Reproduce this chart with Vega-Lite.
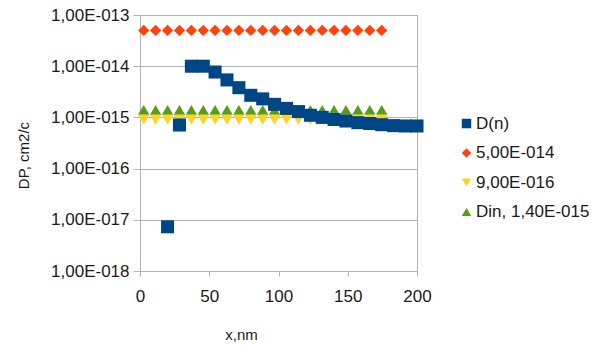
{
  "$schema": "https://vega.github.io/schema/vega-lite/v6.json",
  "width": 277,
  "height": 256,
  "autosize": {"type": "none"},
  "padding": {"left": 140, "top": 15, "right": 184, "bottom": 74},
  "background": "white",
  "config": {
    "font": "Liberation Sans",
    "view": {"stroke": "#b3b3b3", "strokeWidth": 1},
    "axis": {
      "gridColor": "#b3b3b3",
      "domainColor": "#b3b3b3",
      "tickColor": "#b3b3b3",
      "labelColor": "#1a1a1a",
      "titleColor": "#1a1a1a",
      "labelFont": "Liberation Sans",
      "titleFont": "Liberation Sans",
      "labelFontSize": 17,
      "titleFontSize": 15,
      "titleFontWeight": "normal"
    },
    "legend": {
      "orient": "none",
      "legendX": 318,
      "legendY": 100,
      "padding": 0,
      "labelFont": "Liberation Sans",
      "labelFontSize": 17,
      "labelColor": "#1a1a1a",
      "symbolSize": 90,
      "rowPadding": 11.5,
      "labelOffset": 1
    }
  },
  "data": {
    "values": [
      {"series": "Din, 1,40E-015", "x": 2.7, "y": 1.4e-15},
      {"series": "Din, 1,40E-015", "x": 11.3, "y": 1.4e-15},
      {"series": "Din, 1,40E-015", "x": 19.9, "y": 1.4e-15},
      {"series": "Din, 1,40E-015", "x": 28.5, "y": 1.4e-15},
      {"series": "Din, 1,40E-015", "x": 37.1, "y": 1.4e-15},
      {"series": "Din, 1,40E-015", "x": 45.7, "y": 1.4e-15},
      {"series": "Din, 1,40E-015", "x": 54.2, "y": 1.4e-15},
      {"series": "Din, 1,40E-015", "x": 62.8, "y": 1.4e-15},
      {"series": "Din, 1,40E-015", "x": 71.4, "y": 1.4e-15},
      {"series": "Din, 1,40E-015", "x": 80.0, "y": 1.4e-15},
      {"series": "Din, 1,40E-015", "x": 88.6, "y": 1.4e-15},
      {"series": "Din, 1,40E-015", "x": 97.2, "y": 1.4e-15},
      {"series": "Din, 1,40E-015", "x": 105.8, "y": 1.4e-15},
      {"series": "Din, 1,40E-015", "x": 114.4, "y": 1.4e-15},
      {"series": "Din, 1,40E-015", "x": 123.0, "y": 1.4e-15},
      {"series": "Din, 1,40E-015", "x": 131.6, "y": 1.4e-15},
      {"series": "Din, 1,40E-015", "x": 140.1, "y": 1.4e-15},
      {"series": "Din, 1,40E-015", "x": 148.7, "y": 1.4e-15},
      {"series": "Din, 1,40E-015", "x": 157.3, "y": 1.4e-15},
      {"series": "Din, 1,40E-015", "x": 165.9, "y": 1.4e-15},
      {"series": "Din, 1,40E-015", "x": 174.5, "y": 1.4e-15},
      {"series": "9,00E-016", "x": 2.7, "y": 9e-16},
      {"series": "9,00E-016", "x": 11.3, "y": 9e-16},
      {"series": "9,00E-016", "x": 19.9, "y": 9e-16},
      {"series": "9,00E-016", "x": 28.5, "y": 9e-16},
      {"series": "9,00E-016", "x": 37.1, "y": 9e-16},
      {"series": "9,00E-016", "x": 45.7, "y": 9e-16},
      {"series": "9,00E-016", "x": 54.2, "y": 9e-16},
      {"series": "9,00E-016", "x": 62.8, "y": 9e-16},
      {"series": "9,00E-016", "x": 71.4, "y": 9e-16},
      {"series": "9,00E-016", "x": 80.0, "y": 9e-16},
      {"series": "9,00E-016", "x": 88.6, "y": 9e-16},
      {"series": "9,00E-016", "x": 97.2, "y": 9e-16},
      {"series": "9,00E-016", "x": 105.8, "y": 9e-16},
      {"series": "9,00E-016", "x": 114.4, "y": 9e-16},
      {"series": "9,00E-016", "x": 123.0, "y": 9e-16},
      {"series": "9,00E-016", "x": 131.6, "y": 9e-16},
      {"series": "9,00E-016", "x": 140.1, "y": 9e-16},
      {"series": "9,00E-016", "x": 148.7, "y": 9e-16},
      {"series": "9,00E-016", "x": 157.3, "y": 9e-16},
      {"series": "9,00E-016", "x": 165.9, "y": 9e-16},
      {"series": "9,00E-016", "x": 174.5, "y": 9e-16},
      {"series": "5,00E-014", "x": 2.7, "y": 5e-14},
      {"series": "5,00E-014", "x": 11.3, "y": 5e-14},
      {"series": "5,00E-014", "x": 19.9, "y": 5e-14},
      {"series": "5,00E-014", "x": 28.5, "y": 5e-14},
      {"series": "5,00E-014", "x": 37.1, "y": 5e-14},
      {"series": "5,00E-014", "x": 45.7, "y": 5e-14},
      {"series": "5,00E-014", "x": 54.2, "y": 5e-14},
      {"series": "5,00E-014", "x": 62.8, "y": 5e-14},
      {"series": "5,00E-014", "x": 71.4, "y": 5e-14},
      {"series": "5,00E-014", "x": 80.0, "y": 5e-14},
      {"series": "5,00E-014", "x": 88.6, "y": 5e-14},
      {"series": "5,00E-014", "x": 97.2, "y": 5e-14},
      {"series": "5,00E-014", "x": 105.8, "y": 5e-14},
      {"series": "5,00E-014", "x": 114.4, "y": 5e-14},
      {"series": "5,00E-014", "x": 123.0, "y": 5e-14},
      {"series": "5,00E-014", "x": 131.6, "y": 5e-14},
      {"series": "5,00E-014", "x": 140.1, "y": 5e-14},
      {"series": "5,00E-014", "x": 148.7, "y": 5e-14},
      {"series": "5,00E-014", "x": 157.3, "y": 5e-14},
      {"series": "5,00E-014", "x": 165.9, "y": 5e-14},
      {"series": "5,00E-014", "x": 174.5, "y": 5e-14},
      {"series": "D(n)", "x": 19.9, "y": 7.3e-18},
      {"series": "D(n)", "x": 28.5, "y": 7.1e-16},
      {"series": "D(n)", "x": 37.1, "y": 1.0e-14},
      {"series": "D(n)", "x": 45.7, "y": 1.0e-14},
      {"series": "D(n)", "x": 54.2, "y": 7.7e-15},
      {"series": "D(n)", "x": 62.8, "y": 5.4e-15},
      {"series": "D(n)", "x": 71.4, "y": 3.8e-15},
      {"series": "D(n)", "x": 80.0, "y": 2.7e-15},
      {"series": "D(n)", "x": 88.6, "y": 2.3e-15},
      {"series": "D(n)", "x": 97.2, "y": 1.8e-15},
      {"series": "D(n)", "x": 105.8, "y": 1.5e-15},
      {"series": "D(n)", "x": 114.4, "y": 1.3e-15},
      {"series": "D(n)", "x": 123.0, "y": 1.1e-15},
      {"series": "D(n)", "x": 131.6, "y": 1.0e-15},
      {"series": "D(n)", "x": 140.1, "y": 9.1e-16},
      {"series": "D(n)", "x": 148.7, "y": 8.5e-16},
      {"series": "D(n)", "x": 157.3, "y": 7.9e-16},
      {"series": "D(n)", "x": 165.9, "y": 7.6e-16},
      {"series": "D(n)", "x": 174.5, "y": 7.2e-16},
      {"series": "D(n)", "x": 183.1, "y": 6.9e-16},
      {"series": "D(n)", "x": 191.7, "y": 6.8e-16},
      {"series": "D(n)", "x": 200, "y": 6.8e-16}
    ]
  },
  "mark": {"type": "point", "filled": true, "opacity": 1, "clip": false},
  "encoding": {
    "x": {
      "field": "x",
      "type": "quantitative",
      "scale": {"domain": [0, 200], "nice": false, "zero": false},
      "axis": {
        "values": [0, 50, 100, 150, 200],
        "grid": false,
        "tickSize": 5,
        "labelPadding": 12,
        "labelFlush": false,
        "title": "x,nm",
        "titleX": 101,
        "titleY": 63,
        "titleAlign": "center",
        "titleBaseline": "middle"
      }
    },
    "y": {
      "field": "y",
      "type": "quantitative",
      "scale": {"type": "log", "domain": [1e-18, 1e-13], "nice": false},
      "axis": {
        "values": [1e-18, 1e-17, 1e-16, 1e-15, 1e-14, 1e-13],
        "labelExpr": "'1,00E-0' + round(-log(datum.value) / LN10)",
        "grid": true,
        "tickSize": 7,
        "labelPadding": 4,
        "labelFlush": false,
        "title": "DP, cm2/c",
        "titleX": -116.5,
        "titleY": 140,
        "titleAlign": "center",
        "titleBaseline": "middle"
      }
    },
    "color": {
      "field": "series",
      "type": "nominal",
      "scale": {
        "domain": ["D(n)", "5,00E-014", "9,00E-016", "Din, 1,40E-015"],
        "range": ["#004586", "#ff420e", "#ffd320", "#579d1c"]
      },
      "legend": {"title": null}
    },
    "shape": {
      "field": "series",
      "type": "nominal",
      "scale": {
        "domain": ["D(n)", "5,00E-014", "9,00E-016", "Din, 1,40E-015"],
        "range": ["square", "diamond", "triangle-down", "triangle-up"]
      },
      "legend": {"title": null}
    },
    "size": {
      "condition": {"test": "datum.series === 'D(n)'", "value": 170},
      "value": 130
    }
  }
}
